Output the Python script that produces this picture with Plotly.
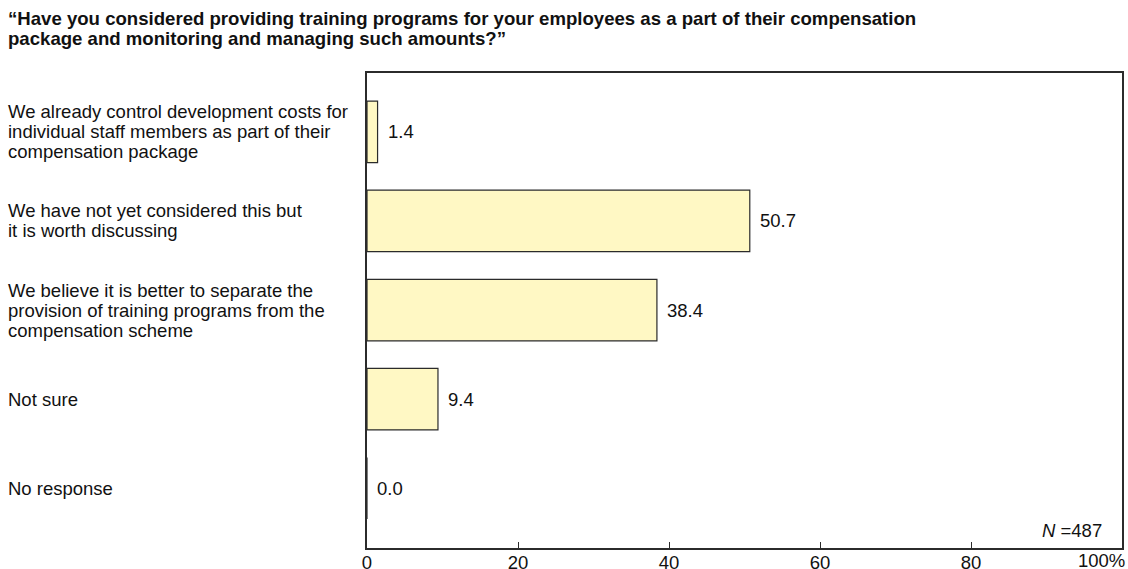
import plotly.graph_objects as go

# Survey answers (shares in %), top to bottom
categories = [
    ["We already control development costs for",
     "individual staff members as part of their",
     "compensation package"],
    ["We have not yet considered this but",
     "it is worth discussing"],
    ["We believe it is better to separate the",
     "provision of training programs from the",
     "compensation scheme"],
    ["Not sure"],
    ["No response"],
]
values = [1.4, 50.7, 38.4, 9.4, 0.0]
tick_values = [0, 20, 40, 60, 80, 100]
tick_labels = ["0", "20", "40", "60", "80", ""]
title_lines = [
    "\u201cHave you considered providing training programs for your employees as a part of their compensation",
    "package and monitoring and managing such amounts?\u201d",
]
sample_note = "<i>N</i> =487"

FONT = "Liberation Sans, Arial, Helvetica, sans-serif"
FS = 18.5
W, H = 1128, 569
M_L, M_R, M_T, M_B = 367, 6, 73, 21
plot_h = H - M_T - M_B
plot_w = W - M_L - M_R
LINE = 20  # label line spacing in px


def px_to_paper_x(px):
    return (px - M_L) / plot_w


def px_to_paper_y(py):
    return (H - M_B - py) / plot_h


positions = list(range(len(values)))

fig = go.Figure(
    go.Bar(
        x=values,
        y=positions,
        orientation="h",
        width=0.69,
        marker=dict(color="#FFF8C4", line=dict(color="#2b2b2b", width=1.2)),
        hoverinfo="skip",
    )
)

annotations = []

# Category labels, one annotation per line, left aligned
for pos, lines in zip(positions, categories):
    n = len(lines)
    for i, line in enumerate(lines):
        annotations.append(dict(
            x=px_to_paper_x(6), xref="paper", y=pos, yref="y",
            text=line, showarrow=False, xanchor="left", yanchor="middle",
            yshift=((n - 1) / 2 - i) * LINE,
            font=dict(family=FONT, size=FS, color="#111"),
        ))

# Value labels just right of each bar end
for pos, v in zip(positions, values):
    annotations.append(dict(
        x=v, xref="x", y=pos, yref="y", text=f"{v:.1f}", showarrow=False,
        xanchor="left", yanchor="middle", xshift=8,
        font=dict(family=FONT, size=FS, color="#111"),
    ))

# Title lines
for i, line in enumerate(title_lines):
    annotations.append(dict(
        x=px_to_paper_x(6), xref="paper", y=px_to_paper_y(19 + 19 * i), yref="paper",
        text=f"<b>{line}</b>", showarrow=False, xanchor="left", yanchor="middle",
        font=dict(family=FONT, size=18.6, color="#111"),
    ))

# Sample size note
annotations.append(dict(
    x=px_to_paper_x(1104), xref="paper", y=px_to_paper_y(530), yref="paper",
    text=sample_note, showarrow=False, xanchor="right", yanchor="middle",
    font=dict(family=FONT, size=FS, color="#111"),
))

# Last tick label, right-aligned to the axis end
annotations.append(dict(
    x=100, xref="x", y=0, yref="paper", text="100%", showarrow=False,
    xanchor="right", yanchor="top", xshift=5, yshift=0,
    font=dict(family=FONT, size=FS, color="#111"),
))

fig.update_layout(
    width=W, height=H,
    margin=dict(l=M_L, r=M_R, t=M_T, b=M_B, autoexpand=False),
    paper_bgcolor="white", plot_bgcolor="white",
    showlegend=False,
    annotations=annotations,
    xaxis=dict(
        range=[0, 100], tickvals=tick_values, ticktext=tick_labels,
        ticks="inside", ticklen=6, tickwidth=1.2, tickcolor="#2b2b2b",
        ticklabelstandoff=-3,
        showline=True, linecolor="#2b2b2b", linewidth=1.5, mirror=True,
        showgrid=False, zeroline=False, fixedrange=True,
        tickfont=dict(family=FONT, size=FS, color="#111"),
    ),
    yaxis=dict(
        range=[4.67, -0.66], showticklabels=False, ticks="",
        showline=True, linecolor="#2b2b2b", linewidth=1.5, mirror=True,
        showgrid=False, zeroline=False, fixedrange=True,
    ),
)

fig.write_html("out.html", config={"displayModeBar": False})
